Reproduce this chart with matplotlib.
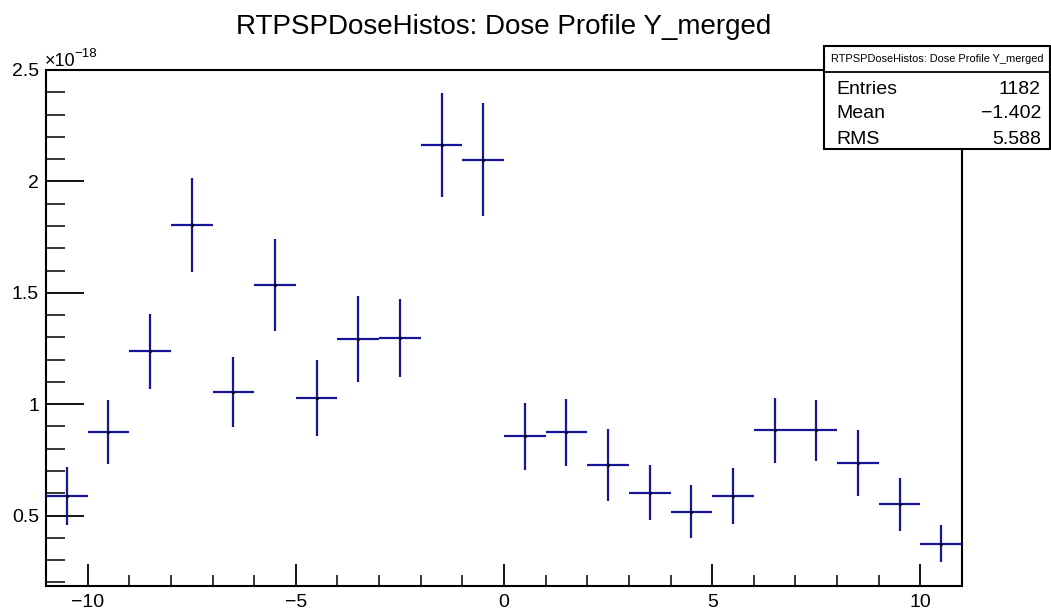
import matplotlib
matplotlib.use("Agg")
import matplotlib.pyplot as plt
from matplotlib.patches import Rectangle
from matplotlib.lines import Line2D
from matplotlib.ticker import MultipleLocator, FixedLocator

plt.rcParams['font.family'] = ['Liberation Sans', 'DejaVu Sans']
plt.rcParams['axes.unicode_minus'] = True

# Histogram: dose profile along Y, 1 mm bins from -11 to 11 (values in units of 1e-18)
bin_centers = [-10.5, -9.5, -8.5, -7.5, -6.5, -5.5, -4.5, -3.5, -2.5, -1.5, -0.5,
               0.5, 1.5, 2.5, 3.5, 4.5, 5.5, 6.5, 7.5, 8.5, 9.5, 10.5]
dose = [0.590, 0.874, 1.237, 1.805, 1.054, 1.535, 1.029, 1.293, 1.297, 2.163, 2.098,
        0.856, 0.873, 0.726, 0.603, 0.517, 0.588, 0.882, 0.882, 0.737, 0.551, 0.373]
dose_err = [0.130, 0.143, 0.168, 0.210, 0.156, 0.206, 0.170, 0.192, 0.176, 0.232, 0.255,
            0.150, 0.151, 0.162, 0.122, 0.119, 0.126, 0.144, 0.135, 0.148, 0.118, 0.083]
bin_half_width = 0.5

x_major = [-10, -5, 0, 5, 10]
x_major_labels = ["\u221210", "\u22125", "0", "5", "10"]
y_major = [0.5, 1.0, 1.5, 2.0, 2.5]
y_major_labels = ["0.5", "1", "1.5", "2", "2.5"]

title = "RTPSPDoseHistos: Dose Profile Y_merged"
stats_labels = ["Entries", "Mean", "RMS"]
stats_values = ["1182", "\u22121.402", "5.588"]

W, H = 1051, 614
fig = plt.figure(figsize=(W / 100, H / 100), dpi=100)


def fx(px):
    return px / W


def fy(py):
    return 1 - py / H


ax = fig.add_axes([fx(46), fy(586), fx(962) - fx(46), fy(70) - fy(586)])

ax.errorbar(bin_centers, dose, yerr=dose_err, xerr=bin_half_width,
            fmt='none', ecolor='#15159a', elinewidth=1.6, capsize=0, zorder=3)
ax.plot(bin_centers, dose, linestyle='none', marker='o', markersize=1.2,
        color='black', zorder=4)

ax.set_xlim(-11, 11)
ax.set_ylim(0.184, 2.5)

ax.xaxis.set_major_locator(FixedLocator(x_major))
ax.xaxis.set_minor_locator(MultipleLocator(1))
ax.yaxis.set_major_locator(FixedLocator(y_major))
ax.yaxis.set_minor_locator(MultipleLocator(0.1))
ax.set_xticklabels(x_major_labels)
ax.set_yticklabels(y_major_labels)

ax.tick_params(axis='x', which='major', direction='in', length=16, width=1.3,
               top=False, labelsize=14, pad=6, colors='black')
ax.tick_params(axis='x', which='minor', direction='in', length=8, width=1.1, top=False)
ax.tick_params(axis='y', which='major', direction='in', length=27, width=1.3,
               right=False, labelsize=14, pad=5)
ax.tick_params(axis='y', which='minor', direction='in', length=14, width=1.1, right=False)

for sp in ax.spines.values():
    sp.set_linewidth(1.5)
    sp.set_color('black')

# Axis multiplier label
fig.text(fx(45), fy(66.5), "\u00d710", fontsize=13, ha='left', va='baseline')
fig.text(fx(74), fy(57), "\u221218", fontsize=9.5, ha='left', va='baseline')

# Title
fig.text(fx(504), fy(34), title, fontsize=20, ha='center', va='baseline')

# Statistics box
box = Rectangle((fx(824), fy(149)), fx(1050) - fx(824), fy(46) - fy(149),
                transform=fig.transFigure, facecolor='white', edgecolor='black',
                linewidth=1.5, zorder=10)
fig.add_artist(box)
fig.add_artist(Line2D([fx(824), fx(1050)], [fy(72), fy(72)], transform=fig.transFigure,
                      color='black', linewidth=1.3, zorder=11))
fig.text(fx(937), fy(59), title, fontsize=7.9, ha='center', va='center', zorder=12)
row_baselines = [93.5, 118, 143.5]
for lab, val, yb in zip(stats_labels, stats_values, row_baselines):
    fig.text(fx(836), fy(yb), lab, fontsize=14, ha='left', va='baseline', zorder=12)
    fig.text(fx(1041), fy(yb), val, fontsize=14, ha='right', va='baseline', zorder=12)

fig.savefig("out.png", dpi=100)
